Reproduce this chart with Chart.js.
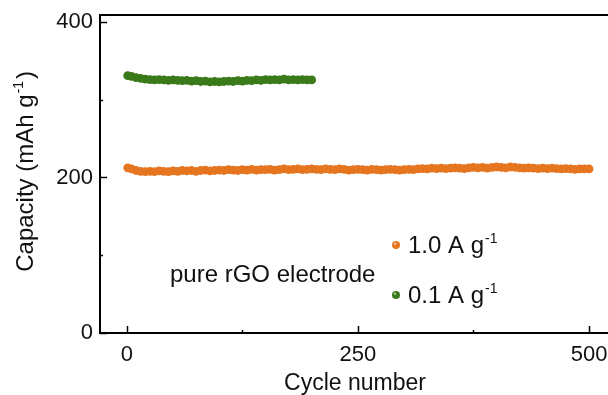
<!DOCTYPE html>
<html>
<head>
<meta charset="utf-8">
<script src="https://cdn.jsdelivr.net/npm/chart.js@4.4.0/dist/chart.umd.min.js"></script>
<style>
  html, body { margin: 0; padding: 0; background: #fff; overflow: hidden; }
  #wrap { width: 608px; height: 395px; overflow: hidden; }
</style>
</head>
<body>
<div id="wrap"><canvas id="grafico" width="640" height="395"></canvas></div>
<script>
// dados (capacidade em mAh g-1, a cada 5 ciclos)
const ciclos = [
  1, 5, 10, 15, 20, 25, 30, 35, 40, 45, 50,
  55, 60, 65, 70, 75, 80, 85, 90, 95, 100,
  105, 110, 115, 120, 125, 130, 135, 140, 145, 150,
  155, 160, 165, 170, 175, 180, 185, 190, 195, 200,
  205, 210, 215, 220, 225, 230, 235, 240, 245, 250,
  255, 260, 265, 270, 275, 280, 285, 290, 295, 300,
  305, 310, 315, 320, 325, 330, 335, 340, 345, 350,
  355, 360, 365, 370, 375, 380, 385, 390, 395, 400,
  405, 410, 415, 420, 425, 430, 435, 440, 445, 450,
  455, 460, 465, 470, 475, 480, 485, 490, 495, 500
];
const cap1A = [
  212.5, 211, 209, 208, 207.5, 208, 207.5, 208.5, 208, 207.5, 208.5,
  208, 209, 208.5, 209, 208, 209, 209.5, 208.5, 209, 209.5,
  209, 210, 209.5, 209, 210, 209.5, 210.5, 209.5, 210, 210,
  210.5, 209.5, 210, 211, 210, 210.5, 211, 210, 210.5, 211,
  210.5, 210, 211, 210.5, 210, 211, 210.5, 209.5, 210, 210.5,
  210, 209.5, 210.5, 210, 209.5, 210, 210.5, 210, 209.5, 210,
  210.5, 210, 211, 211.5, 211, 212, 211.5, 212, 211.5, 212,
  212.5, 212, 211.5, 212.5, 213, 212.5, 213, 212, 213, 213.5,
  213, 212.5, 213.5, 213, 212.5, 212, 212.5, 212, 211.5, 212,
  211.5, 212, 211.5, 211, 211.5, 211, 210.5, 211, 211, 211
];
const cap01A = [
  331, 330, 328.5, 327.5, 326.5, 326, 325.5, 326, 325.5, 325, 325.5,
  325, 324.5, 325, 324, 324.5, 323.5, 324, 323, 323.5, 323,
  323.5, 324, 323.5, 324.5, 324, 325, 324.5, 325.5, 325, 326,
  325.5, 326, 325.5, 326.5, 325.5, 326, 325.5, 326, 325.5, 325.5
];
const ticksX = [0, 250, 500];
const ticksY = [0, 200, 400];
const minorX = [125, 375];
const minorY = [100, 300];

const fonte = '"Liberation Sans", Arial, sans-serif';
const corLaranja = "#e5751f";
const corVerde = "#3b7a1b";

function pontos(xs, ys) {
  return ys.map((v, i) => ({ x: xs[i], y: v }));
}

// texto com expoente (g^-1)
function textoSup(c, base, sup, x, y, tam) {
  c.font = tam + "px " + fonte;
  c.fillText(base, x, y);
  const w = c.measureText(base).width;
  c.font = Math.round(tam * 0.6) + "px " + fonte;
  c.fillText(sup, x + w + 1, y - tam * 0.42);
  return w + 1 + c.measureText(sup).width;
}
function larguraSup(c, base, sup, tam) {
  c.font = tam + "px " + fonte;
  const w = c.measureText(base).width;
  c.font = Math.round(tam * 0.6) + "px " + fonte;
  return w + 1 + c.measureText(sup).width;
}

const extras = {
  id: "extras",
  afterDraw(chart) {
    const c = chart.ctx;
    const a = chart.chartArea;
    const sx = chart.scales.x, sy = chart.scales.y;
    c.save();
    c.strokeStyle = "#000";
    c.lineWidth = 2;
    // borda de cima
    c.beginPath();
    c.moveTo(a.left - 1, a.top);
    c.lineTo(a.right, a.top);
    c.stroke();
    // ticks para dentro
    c.lineWidth = 1.5;
    ticksX.concat(minorX).forEach((t) => {
      const px = Math.round(sx.getPixelForValue(t)) + 0.5;
      const len = ticksX.includes(t) ? 7 : 3;
      c.beginPath();
      c.moveTo(px, a.bottom);
      c.lineTo(px, a.bottom - len);
      c.stroke();
    });
    ticksY.concat(minorY).forEach((t) => {
      const py = Math.round(sy.getPixelForValue(t)) + 0.5;
      const len = ticksY.includes(t) ? 7 : 3;
      c.beginPath();
      c.moveTo(a.left, py);
      c.lineTo(a.left + len, py);
      c.stroke();
    });

    c.fillStyle = "#111";
    c.textBaseline = "alphabetic";
    c.textAlign = "left";

    // titulo do eixo y
    const tam = 24;
    const wy = larguraSup(c, "Capacity (mAh g", "-1", tam) + c.measureText(")").width;
    c.save();
    c.translate(33, (a.top + a.bottom) / 2);
    c.rotate(-Math.PI / 2);
    const wt = textoSup(c, "Capacity (mAh g", "-1", -wy / 2, 0, tam);
    c.font = tam + "px " + fonte;
    c.fillText(")", -wy / 2 + wt + 2, 0);
    c.restore();

    // titulo do eixo x
    c.font = "23px " + fonte;
    c.textAlign = "center";
    c.fillText("Cycle number", 355, 390);
    c.textAlign = "left";

    // anotacao
    c.font = "24px " + fonte;
    c.fillText("pure rGO electrode", 170, 282);

    // legenda
    const itens = [
      { cor: corLaranja, txt: "1.0 A g", y: 245 },
      { cor: corVerde, txt: "0.1 A g", y: 295 },
    ];
    itens.forEach((it) => {
      c.fillStyle = it.cor;
      c.beginPath();
      c.arc(396, it.y, 4, 0, Math.PI * 2);
      c.fill();
      c.fillStyle = "rgba(255,255,255,0.55)";
      c.beginPath();
      c.arc(395, it.y - 1.2, 1.3, 0, Math.PI * 2);
      c.fill();
      c.fillStyle = "#111";
      textoSup(c, it.txt, "-1", 408, it.y + 8, 24);
    });
    c.restore();
  },
};

const ctx = document.getElementById("grafico").getContext("2d");
const grafico = new Chart(ctx, {
  type: "scatter",
  data: {
    datasets: [
      {
        label: "1.0 A g-1",
        data: pontos(ciclos, cap1A),
        backgroundColor: corLaranja,
        borderColor: corLaranja,
        borderWidth: 0,
        pointRadius: 4.4,
      },
      {
        label: "0.1 A g-1",
        data: pontos(ciclos, cap01A),
        backgroundColor: corVerde,
        borderColor: corVerde,
        borderWidth: 0,
        pointRadius: 4.4,
      },
    ],
  },
  options: {
    responsive: false,
    animation: false,
    devicePixelRatio: 1,
    layout: { padding: { top: 15, right: 14, left: 0, bottom: 0 } },
    plugins: {
      legend: { display: false },
      tooltip: { enabled: false },
    },
    scales: {
      x: {
        type: "linear",
        min: -29,
        max: 540,
        afterBuildTicks: (s) => { s.ticks = ticksX.map((v) => ({ value: v })); },
        afterFit: (s) => { s.height = 62; s.paddingLeft = 0; s.paddingRight = 0; },
        grid: { display: false, drawTicks: false },
        border: { display: true, color: "#000", width: 2 },
        ticks: {
          color: "#111",
          padding: 9,
          maxRotation: 0,
          font: { family: fonte, size: 22 },
        },
      },
      y: {
        min: 0,
        max: 409,
        afterBuildTicks: (s) => { s.ticks = ticksY.map((v) => ({ value: v })); },
        afterFit: (s) => { s.width = 100; s.paddingTop = 0; s.paddingBottom = 0; },
        grid: { display: false, drawTicks: false },
        border: { display: true, color: "#000", width: 2 },
        ticks: {
          color: "#111",
          padding: 7,
          font: { family: fonte, size: 22 },
        },
      },
    },
  },
  plugins: [extras],
});
</script>
</body>
</html>
